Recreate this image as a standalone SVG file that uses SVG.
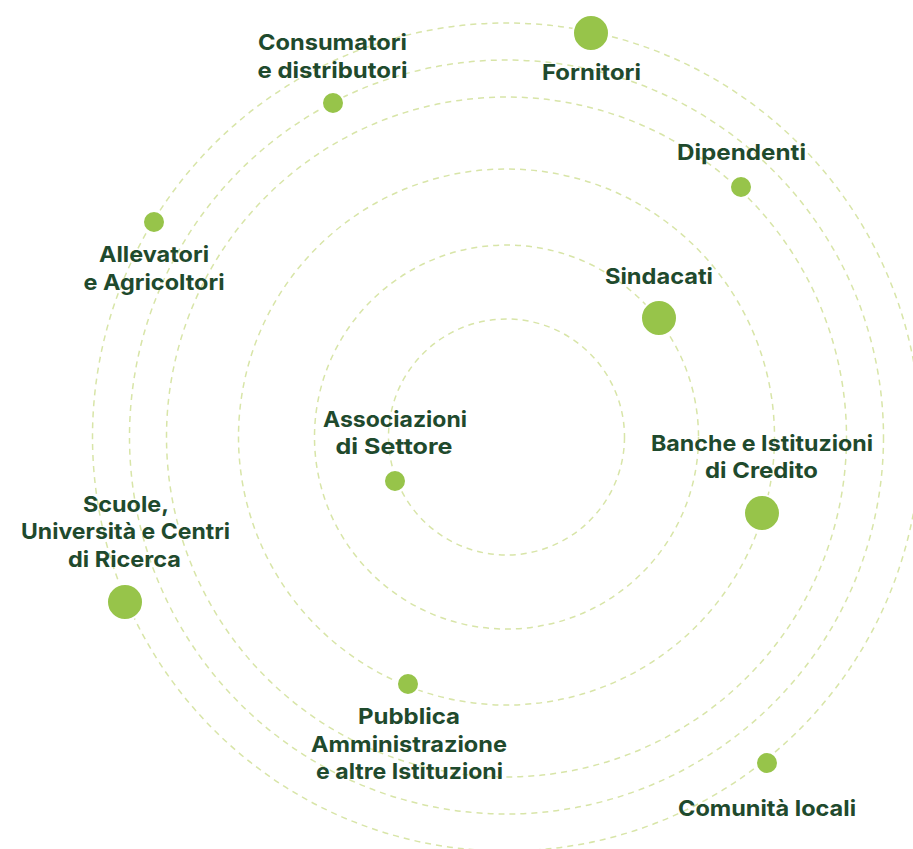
<svg xmlns="http://www.w3.org/2000/svg" width="913" height="849" viewBox="0 0 913 849">
<style>
.orbit{fill:none;stroke:#D8E5A8;stroke-width:1.5;stroke-dasharray:6 5}
.dot{fill:#97C44A;stroke:#ffffff;stroke-width:2}
.lbl{font-family:Inter,"Open Sans","Liberation Sans",sans-serif;font-weight:700;font-size:22px;fill:#1F4A2D;text-anchor:middle}
</style>
<rect width="913" height="849" fill="#ffffff"/>
<g id="orbits">
<circle class="orbit" cx="506.5" cy="437" r="118"/>
<circle class="orbit" cx="506.5" cy="437" r="192"/>
<circle class="orbit" cx="506.5" cy="437" r="268"/>
<circle class="orbit" cx="506.5" cy="437" r="340"/>
<circle class="orbit" cx="506.5" cy="437" r="377"/>
<circle class="orbit" cx="506.5" cy="437" r="414"/>
</g>
<g id="consumatori">
<circle class="dot" cx="333" cy="103" r="11"/>
<text class="lbl"><tspan x="332.5" y="50" textLength="149" lengthAdjust="spacingAndGlyphs">Consumatori</tspan><tspan x="332.5" y="78" textLength="150" lengthAdjust="spacingAndGlyphs">e distributori</tspan></text>
</g>
<g id="fornitori">
<circle class="dot" cx="591" cy="33" r="18"/>
<text class="lbl" x="591.5" y="80" textLength="99" lengthAdjust="spacingAndGlyphs">Fornitori</text>
</g>
<g id="dipendenti">
<circle class="dot" cx="741" cy="187" r="11"/>
<text class="lbl" x="741.5" y="160" textLength="129" lengthAdjust="spacingAndGlyphs">Dipendenti</text>
</g>
<g id="sindacati">
<circle class="dot" cx="659" cy="318" r="18"/>
<text class="lbl" x="659" y="284" textLength="108" lengthAdjust="spacingAndGlyphs">Sindacati</text>
</g>
<g id="allevatori">
<circle class="dot" cx="154" cy="222" r="11"/>
<text class="lbl"><tspan x="154" y="262" textLength="110" lengthAdjust="spacingAndGlyphs">Allevatori</tspan><tspan x="154" y="290" textLength="141" lengthAdjust="spacingAndGlyphs">e Agricoltori</tspan></text>
</g>
<g id="associazioni">
<circle class="dot" cx="395" cy="481" r="11"/>
<text class="lbl"><tspan x="395" y="427" textLength="144" lengthAdjust="spacingAndGlyphs">Associazioni</tspan><tspan x="394" y="454" textLength="117" lengthAdjust="spacingAndGlyphs">di Settore</tspan></text>
</g>
<g id="banche">
<circle class="dot" cx="762" cy="513" r="18"/>
<text class="lbl"><tspan x="762" y="451" textLength="222" lengthAdjust="spacingAndGlyphs">Banche e Istituzioni</tspan><tspan x="761.5" y="478" textLength="113" lengthAdjust="spacingAndGlyphs">di Credito</tspan></text>
</g>
<g id="scuole">
<circle class="dot" cx="125" cy="602" r="18"/>
<text class="lbl"><tspan x="126" y="512" textLength="86" lengthAdjust="spacingAndGlyphs">Scuole,</tspan><tspan x="125.5" y="539" textLength="209" lengthAdjust="spacingAndGlyphs">Università e Centri</tspan><tspan x="124.5" y="567" textLength="113" lengthAdjust="spacingAndGlyphs">di Ricerca</tspan></text>
</g>
<g id="pubblica">
<circle class="dot" cx="408" cy="684" r="11"/>
<text class="lbl"><tspan x="409" y="724" textLength="102" lengthAdjust="spacingAndGlyphs">Pubblica</tspan><tspan x="409" y="752" textLength="196" lengthAdjust="spacingAndGlyphs">Amministrazione</tspan><tspan x="409.5" y="779" textLength="187" lengthAdjust="spacingAndGlyphs">e altre Istituzioni</tspan></text>
</g>
<g id="comunita">
<circle class="dot" cx="767" cy="763" r="11"/>
<text class="lbl" x="767" y="816" textLength="178" lengthAdjust="spacingAndGlyphs">Comunità locali</text>
</g>
</svg>
